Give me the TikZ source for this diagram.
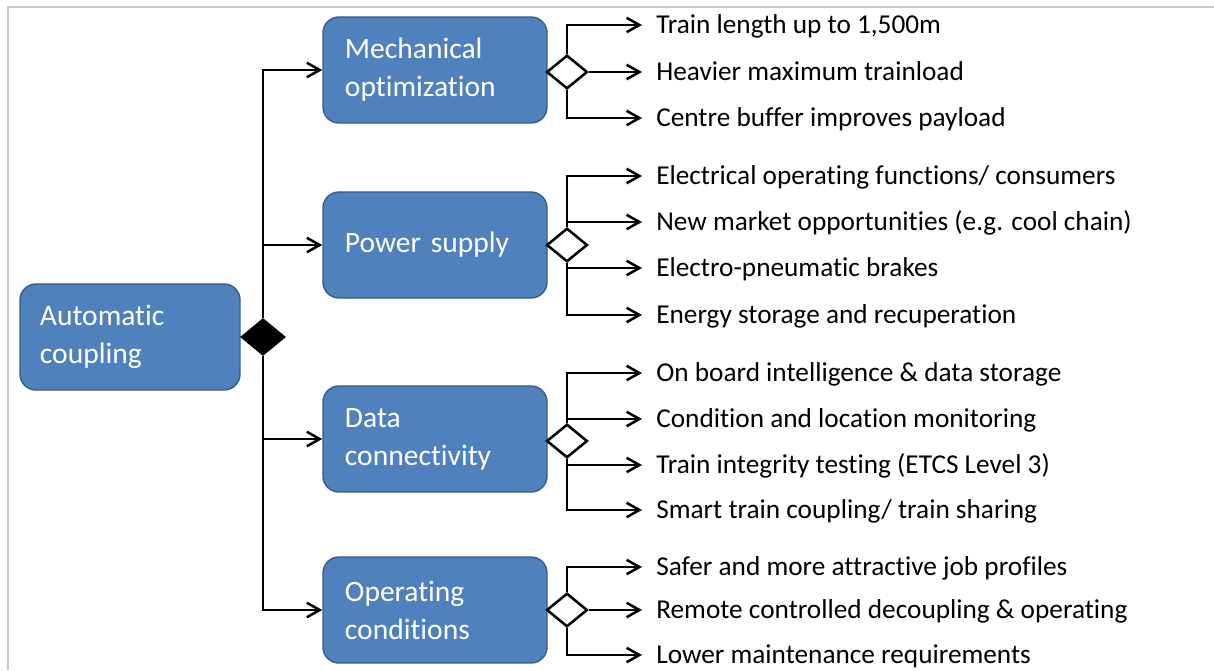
\documentclass[tikz,border=0pt]{standalone}
\usepackage{fontspec}
\setmainfont{Carlito}[Ligatures=NoCommon]
\usetikzlibrary{shapes.geometric,arrows.meta}

\definecolor{blokblauw}{HTML}{4F81BD}
\definecolor{blokrand}{HTML}{385D8A}
\definecolor{kader}{HTML}{C8C8C8}

\tikzset{
  blok/.style={rectangle, rounded corners=0.4cm, fill=blokblauw, draw=blokrand,
    line width=1pt, text=white, font=\fontsize{21}{27}\selectfont, align=left,
    minimum width=5.6cm, minimum height=2.65cm, text width=4.5cm, inner xsep=0.55cm},
  punt/.style={anchor=west, inner xsep=0.35cm, inner ysep=0pt, text height=0.43cm,
    text depth=0pt, font=\fontsize{19.4}{23}\selectfont},
  zwarteruit/.style={diamond, fill=black, minimum width=1.15cm, minimum height=0.95cm, inner sep=0pt},
  witteruit/.style={diamond, fill=white, draw=black, line width=1.8pt,
    minimum width=1.02cm, minimum height=0.84cm, inner sep=0pt},
  lijn/.style={line width=1.8pt}
}

\begin{document}
\begin{tikzpicture}[x=0.025cm, y=-0.025cm, >={Straight Barb[length=0.32cm,width=0.36cm]}]

  \useasboundingbox (0,0) rectangle (1214,670);

  % Kader
  \draw[kader, line width=1.5pt] (8,670) -- (8,7) -- (1214,7);

  % Hoofdblok
  \node[blok, minimum width=5.5cm, text width=4.5cm, inner xsep=0.5cm] (AC) at (130,337) {Automatic\\coupling};
  \node[zwarteruit] (ACr) at (263,337) {};

  % Deelblokken
  \node[blok] (MO) at (435,70)  {Mechanical\\optimization};
  \node[blok] (PS) at (435,245) {Power supply};
  \node[blok] (DC) at (435,439) {Data\\connectivity};
  \node[blok] (OC) at (435,610) {Operating\\conditions};

  \draw[lijn, ->] (ACr.north) |- (MO.west);
  \draw[lijn, ->] (ACr.north) |- (PS.west);
  \draw[lijn, ->] (ACr.south) |- (DC.west);
  \draw[lijn, ->] (ACr.south) |- (OC.west);

  % Mechanical optimization
  \node[witteruit] (MOr) at (567,72) {};
  \node[punt] (MO1) at (642,25)  {Train length up to 1,500m};
  \node[punt] (MO2) at (642,72)  {Heavier maximum trainload};
  \node[punt] (MO3) at (642,118) {Centre buffer improves payload};

  \draw[lijn, ->] (MOr.north) |- (MO1.west);
  \draw[lijn, ->] (MOr.east)  -- (MO2.west);
  \draw[lijn, ->] (MOr.south) |- (MO3.west);

  % Power supply
  \node[witteruit] (PSr) at (567,245) {};
  \node[punt] (PS1) at (642,176) {Electrical operating functions/ consumers};
  \node[punt] (PS2) at (642,222) {New market opportunities (e.g. cool chain)};
  \node[punt] (PS3) at (642,268) {Electro-pneumatic brakes};
  \node[punt] (PS4) at (642,315) {Energy storage and recuperation};

  \draw[lijn, ->] (PSr.north) |- (PS1.west);
  \draw[lijn, ->] (PSr.north) |- (PS2.west);
  \draw[lijn, ->] (PSr.south) |- (PS3.west);
  \draw[lijn, ->] (PSr.south) |- (PS4.west);

  % Data connectivity
  \node[witteruit] (DCr) at (567,441) {};
  \node[punt] (DC1) at (642,373) {On board intelligence \& data storage};
  \node[punt] (DC2) at (642,419) {Condition and location monitoring};
  \node[punt] (DC3) at (642,465) {Train integrity testing (ETCS Level 3)};
  \node[punt] (DC4) at (642,510) {Smart train coupling/ train sharing};

  \draw[lijn, ->] (DCr.north) |- (DC1.west);
  \draw[lijn, ->] (DCr.north) |- (DC2.west);
  \draw[lijn, ->] (DCr.south) |- (DC3.west);
  \draw[lijn, ->] (DCr.south) |- (DC4.west);

  % Operating conditions
  \node[witteruit] (OCr) at (567,610) {};
  \node[punt] (OC1) at (642,567) {Safer and more attractive job profiles};
  \node[punt] (OC2) at (642,610) {Remote controlled decoupling \& operating};
  \node[punt] (OC3) at (642,655) {Lower maintenance requirements};

  \draw[lijn, ->] (OCr.north) |- (OC1.west);
  \draw[lijn, ->] (OCr.east)  -- (OC2.west);
  \draw[lijn, ->] (OCr.south) |- (OC3.west);

\end{tikzpicture}
\end{document}
